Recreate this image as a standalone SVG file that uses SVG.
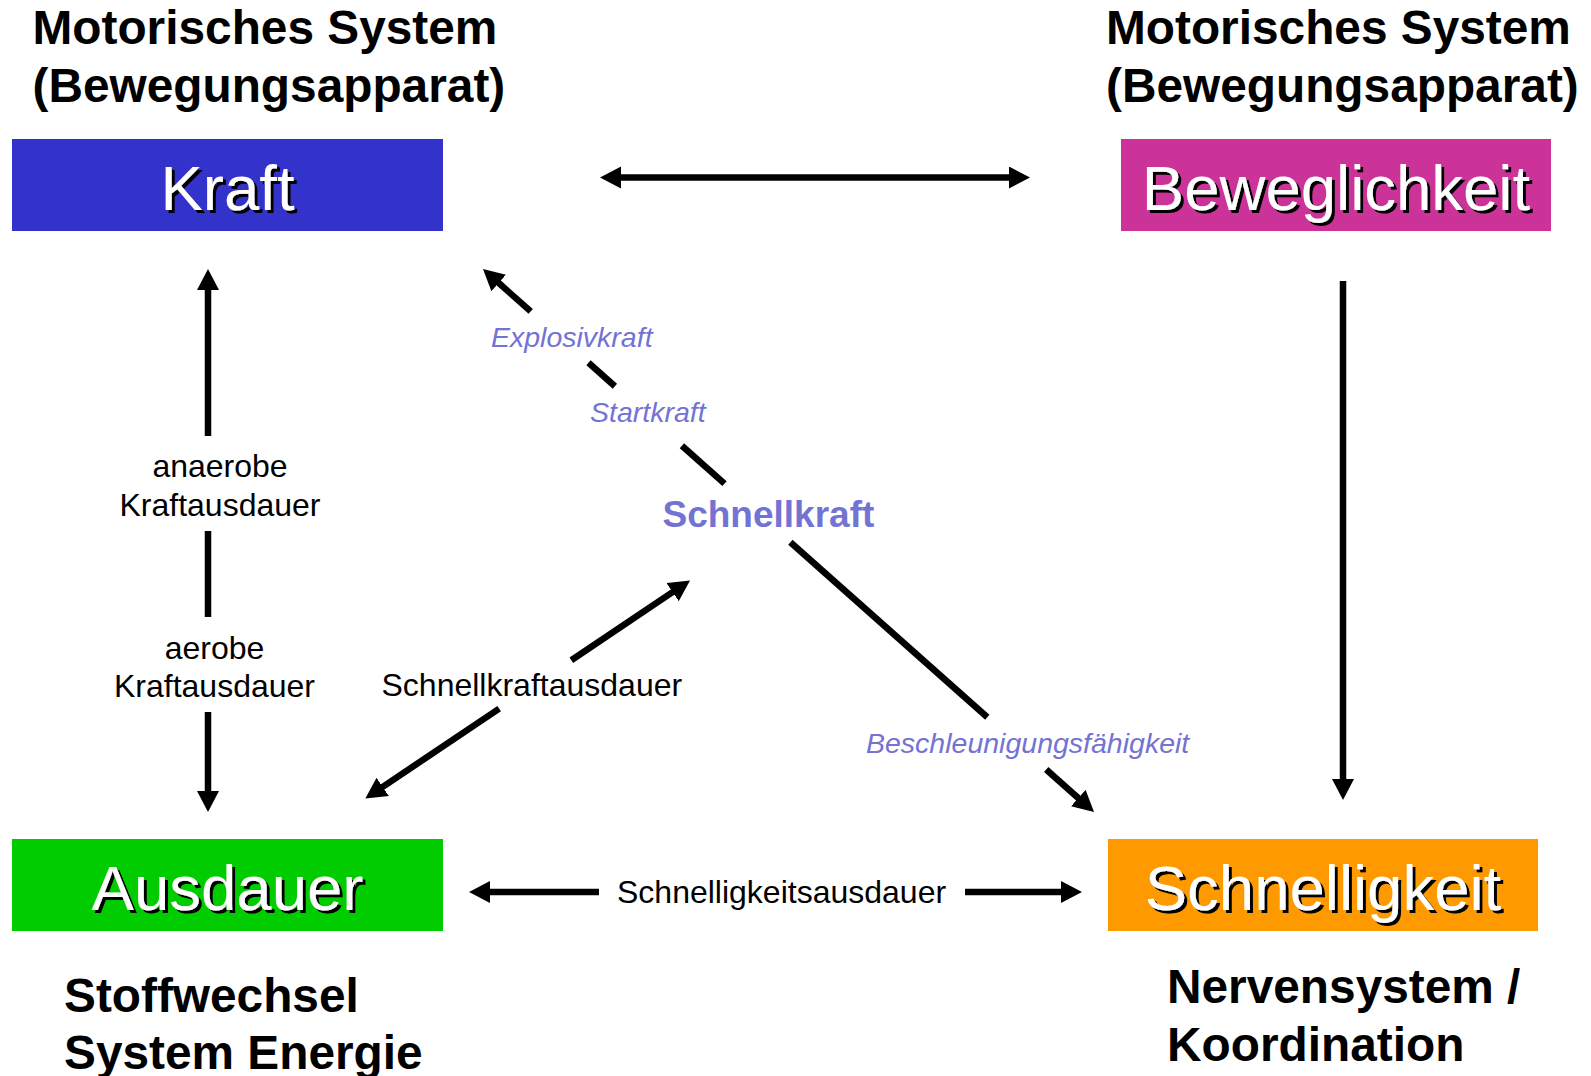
<svg xmlns="http://www.w3.org/2000/svg" width="1591" height="1076" viewBox="0 0 1591 1076">
<style>
.title{font-family:"Liberation Sans",Arial,sans-serif;font-weight:bold;font-size:47.8px;fill:#000}
.node{font-family:"Liberation Sans",Arial,sans-serif;font-size:63.5px;fill:#fff;text-anchor:middle}
.lbl{font-family:"Liberation Sans",Arial,sans-serif;font-size:32px;fill:#000}
.ital{font-family:"Liberation Sans",Arial,sans-serif;font-style:italic;font-size:28.5px;fill:#7373D4}
.bp{font-family:"Liberation Sans",Arial,sans-serif;font-weight:bold;font-size:37px;fill:#7373D4}
.ln{stroke:#000;stroke-width:6.5;fill:none}
</style>
<defs>
<marker id="ah" markerUnits="userSpaceOnUse" markerWidth="22" markerHeight="23" refX="4" refY="11" orient="auto-start-reverse">
<path d="M0,0 L21,11 L0,22 z" fill="#000"/>
</marker>
<filter id="sh" x="-5%" y="-5%" width="115%" height="120%">
<feOffset in="SourceAlpha" dx="2.5" dy="2.5" result="o"/>
<feFlood flood-color="#000"/>
<feComposite in2="o" operator="in" result="s"/>
<feMerge><feMergeNode in="s"/><feMergeNode in="SourceGraphic"/></feMerge>
</filter>
</defs>
<rect width="1591" height="1076" fill="#fff"/>

<g id="title-left">
<text class="title" x="32.5" y="44">Motorisches System</text>
<text class="title" x="32.5" y="102">(Bewegungsapparat)</text>
</g>
<g id="title-right">
<text class="title" x="1106" y="44">Motorisches System</text>
<text class="title" x="1106" y="102">(Bewegungsapparat)</text>
</g>

<g id="kraft">
<rect x="12" y="139" width="431" height="92" fill="#3333CC"/>
<text class="node" x="227.5" y="210" filter="url(#sh)">Kraft</text>
</g>
<g id="beweglichkeit">
<rect x="1121" y="139" width="430" height="92" fill="#CC3399"/>
<text class="node" x="1336" y="210" filter="url(#sh)">Beweglichkeit</text>
</g>
<g id="ausdauer">
<rect x="12" y="839" width="431" height="92" fill="#00CC00"/>
<text class="node" x="227.5" y="910" filter="url(#sh)">Ausdauer</text>
</g>
<g id="schnelligkeit">
<rect x="1108" y="839" width="430" height="92" fill="#FF9900"/>
<text class="node" x="1323" y="910" filter="url(#sh)">Schnelligkeit</text>
</g>

<g id="bottom-left">
<text class="title" x="64" y="1012">Stoffwechsel</text>
<text class="title" x="64" y="1069">System Energie</text>
</g>
<g id="bottom-right">
<text class="title" x="1167" y="1003">Nervensystem /</text>
<text class="title" x="1167" y="1061">Koordination</text>
</g>

<g id="connectors">
<line class="ln" x1="617" y1="177.5" x2="1013" y2="177.5" marker-start="url(#ah)" marker-end="url(#ah)"/>
<line class="ln" x1="1343" y1="281" x2="1343" y2="783" marker-end="url(#ah)"/>
<line class="ln" x1="208" y1="286" x2="208" y2="436" marker-start="url(#ah)"/>
<line class="ln" x1="208" y1="531" x2="208" y2="617"/>
<line class="ln" x1="208" y1="712" x2="208" y2="795" marker-end="url(#ah)"/>
<line class="ln" x1="486" y1="892" x2="599" y2="892" marker-start="url(#ah)"/>
<line class="ln" x1="965" y1="892" x2="1065" y2="892" marker-end="url(#ah)"/>
<line class="ln" x1="495.7" y1="280.3" x2="530.7" y2="311.4" marker-start="url(#ah)"/>
<line class="ln" x1="588.5" y1="362.8" x2="614.9" y2="386.2"/>
<line class="ln" x1="681.9" y1="445.8" x2="724.5" y2="483.6"/>
<line class="ln" x1="790.4" y1="542.2" x2="987.3" y2="717.2"/>
<line class="ln" x1="1046.2" y1="769.5" x2="1081.3" y2="800.7" marker-end="url(#ah)"/>
<line class="ln" x1="379.4" y1="789.1" x2="499.2" y2="708.6" marker-start="url(#ah)"/>
<line class="ln" x1="571.3" y1="660.2" x2="675.9" y2="589.9" marker-end="url(#ah)"/>
</g>

<g id="labels">
<text class="lbl" x="220" y="477" text-anchor="middle">anaerobe</text>
<text class="lbl" x="220" y="515.5" text-anchor="middle">Kraftausdauer</text>
<text class="lbl" x="214.5" y="658.5" text-anchor="middle">aerobe</text>
<text class="lbl" x="214.5" y="697" text-anchor="middle">Kraftausdauer</text>
<text class="lbl" x="381.5" y="696">Schnellkraftausdauer</text>
<text class="lbl" x="617" y="903">Schnelligkeitsausdauer</text>
<text class="ital" x="491" y="347">Explosivkraft</text>
<text class="ital" x="590" y="421.5">Startkraft</text>
<text class="bp" x="662.5" y="527">Schnellkraft</text>
<text class="ital" x="866" y="753">Beschleunigungsfähigkeit</text>
</g>
</svg>
